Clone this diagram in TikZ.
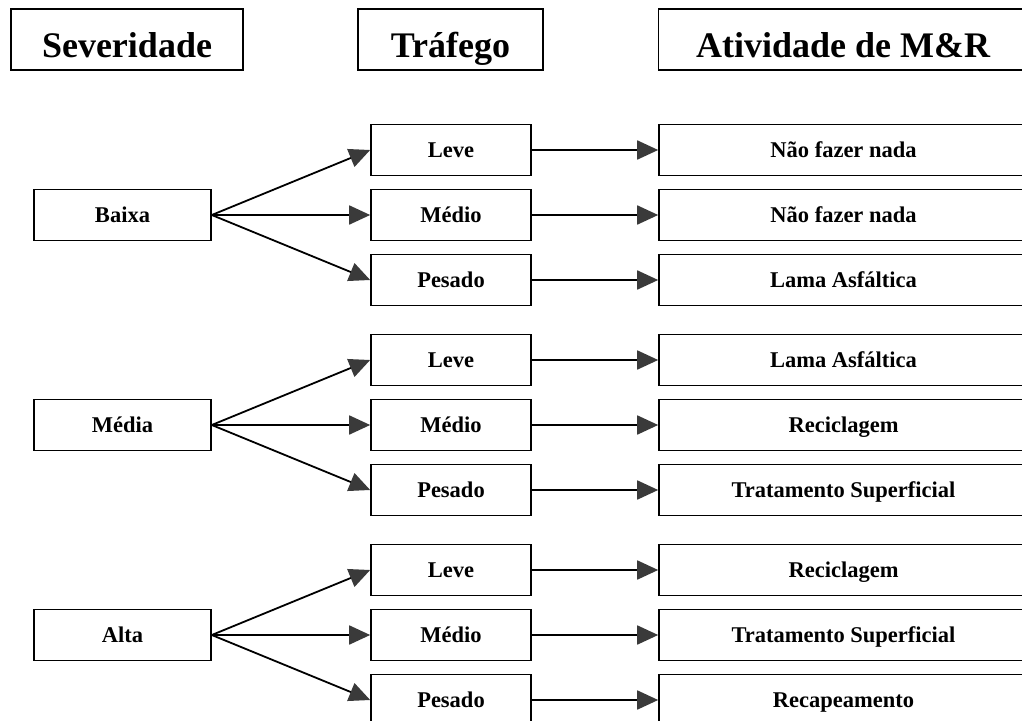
\documentclass[tikz,border=0pt]{standalone}
\usepackage{fontspec}
\setmainfont{Liberation Serif}
\usetikzlibrary{arrows.meta}
\definecolor{arrowgray}{HTML}{3A3A3A}
\begin{document}
\begin{tikzpicture}[x=1pt,y=-1pt,
  hbox/.style={draw,line width=1.6pt,minimum height=61pt,inner sep=0pt,
    font=\fontsize{36}{36}\selectfont\bfseries,text height=36pt,text depth=0pt},
  cbox/.style={draw,line width=1.6pt,minimum height=51pt,inner sep=0pt,
    font=\fontsize{22.5}{22.5}\selectfont\bfseries,text height=15pt,text depth=0pt},
  seta/.style={line width=1.8pt,-{Triangle[length=21pt,width=19pt,color=arrowgray]}}]
\useasboundingbox (0,0) rectangle (1022,720);
\pgfmathsetmacro{\kgstep}{210}
\pgfmathsetmacro{\krstep}{65}
% headers
\node[hbox,minimum width=232pt] (hsev) at (127,39.5) {Severidade};
\node[hbox,minimum width=185pt] (htraf) at (450.5,39.5) {Tráfego};
\node[hbox,minimum width=369pt] (hativ) at (843,39.5) {Atividade de M\&R};
% severidade -> trafego
\foreach \sev [count=\g from 0] in {Baixa,Média,Alta}{
  \node[cbox,minimum width=177pt] (s\g) at ({122.5},{215+\g*\kgstep}) {\sev};
  \foreach \traf [count=\r from 1] in {Leve,Médio,Pesado}{
    \node[cbox,minimum width=160pt] (t\g\r) at ({451},{215+\g*\kgstep+(\r-2)*\krstep}) {\traf};
    \draw[seta] (s\g.east) -- (t\g\r.west);
  }
}
% trafego -> atividade
\foreach \g/\r/\ativ in {0/1/Não fazer nada,0/2/Não fazer nada,0/3/Lama Asfáltica,
  1/1/Lama Asfáltica,1/2/Reciclagem,1/3/Tratamento Superficial,
  2/1/Reciclagem,2/2/Tratamento Superficial,2/3/Recapeamento}{
  \node[cbox,minimum width=369pt] (a\g\r) at ({843.5},{215+\g*\kgstep+(\r-2)*\krstep}) {\ativ};
  \draw[seta] (t\g\r.east) -- (a\g\r.west);
}
\end{tikzpicture}
\end{document}
